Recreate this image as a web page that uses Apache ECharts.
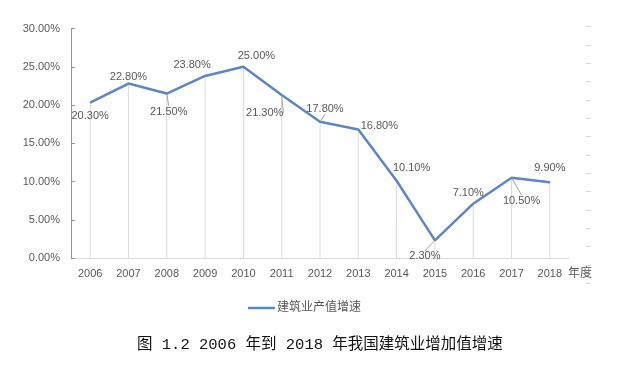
<!DOCTYPE html>
<html><head><meta charset="utf-8">
<script src="https://cdn.jsdelivr.net/npm/echarts@6/dist/echarts.min.js"></script>
<style>html,body{margin:0;padding:0;background:#fff}#c{width:617px;height:373px}</style>
</head><body><div id="c"></div>
<script>
const years = ['2006','2007','2008','2009','2010','2011','2012','2013','2014','2015','2016','2017','2018'];
const growth = [20.3, 22.8, 21.5, 23.8, 25.0, 21.3, 17.8, 16.8, 10.1, 2.3, 7.1, 10.5, 9.9];
const seriesName = '建筑业产值增速';
const xAxisName = '年度';
const titleText = '图 1.2 2006 年到 2018 年我国建筑业增加值增速';
const yTicks = { min: 0, max: 30, interval: 5 };

// label styling (offsets from each point, px) and which labels get leader lines
const labelOffsets = [[0,13],[0,-7],[2,18],[-13,-11],[13,-11],[-17,18],[5,-13],[21,-4],[15,-13],[-10,16],[-5,-11],[10,23],[0,-14.5]];
const leaderIdx = [2,5,6,9,11];

const FONT = '"Liberation Sans","Noto Sans CJK SC",sans-serif';
const GRAY = '#595959';
const LINE = '#5B87C6';

const chart = echarts.init(document.getElementById('c'), null, {renderer:'canvas'});
chart.setOption({
  animation: false,
  backgroundColor: '#fff',
  textStyle: { fontFamily: FONT },
  title: {
    text: titleText, left: 132, top: 332,
    textStyle: { fontFamily: '"Liberation Mono","Noto Sans CJK SC",monospace', fontSize: 15.5, fontWeight: 'normal', color: '#111' }
  },
  legend: {
    data: [seriesName], left: 243, top: 297,
    icon: 'rect', itemWidth: 27, itemHeight: 2.5, itemGap: 0,
    textStyle: { fontFamily: FONT, fontSize: 12, color: GRAY, padding: [0,0,0,-3] }
  },
  grid: [
    { left: 71, right: 48, top: 28.5, bottom: 115, containLabel: false },
    { left: 591, width: 1, top: 26.7, height: 256.6 }
  ],
  xAxis: [
    {
      type: 'category', data: years, boundaryGap: true, gridIndex: 0,
      axisLine: { lineStyle: { color: '#d9d9d9', width: 1 } },
      axisTick: { show: false },
      axisLabel: { color: GRAY, fontSize: 11, margin: 10, fontFamily: FONT },
      name: xAxisName, nameLocation: 'end', nameGap: 21,
      nameTextStyle: { color: GRAY, fontSize: 12, align: 'right', verticalAlign: 'top', padding: [10,0,0,0], fontFamily: FONT }
    },
    { type: 'value', gridIndex: 1, show: false }
  ],
  yAxis: [
    {
      type: 'value', gridIndex: 0, min: yTicks.min, max: yTicks.max, interval: yTicks.interval,
      axisLine: { show: true, lineStyle: { color: '#6C9BD6', width: 1 } },
      axisTick: { show: true, inside: true, length: 4, lineStyle: { color: '#6C9BD6' } },
      splitLine: { show: false },
      axisLabel: { color: GRAY, fontSize: 11, margin: 11, fontFamily: FONT, formatter: v => v.toFixed(2) + '%' }
    },
    {
      type: 'value', gridIndex: 1, min: 0, max: 14, interval: 1,
      axisLine: { show: false },
      axisTick: { show: true, length: 5, lineStyle: { color: '#d9d9d9' } },
      axisLabel: { show: false },
      splitLine: { show: false }
    }
  ],
  series: [
    {
      type: 'bar', name: 'drop', data: growth, barWidth: 1, xAxisIndex: 0, yAxisIndex: 0,
      itemStyle: { color: '#d9d9d9' }, silent: true, z: 1
    },
    {
      type: 'line', name: seriesName, xAxisIndex: 0, yAxisIndex: 0, z: 3,
      data: growth.map((v, i) => ({ value: v, labelLine: { show: leaderIdx.includes(i) } })),
      symbol: 'circle', symbolSize: 1, showSymbol: true,
      lineStyle: { color: LINE, width: 2.5 },
      itemStyle: { color: LINE },
      label: {
        show: true, color: GRAY, fontSize: 11, fontFamily: FONT,
        formatter: p => p.value.toFixed(2) + '%'
      },
      labelLine: { show: false, lineStyle: { color: '#a6a6a6', width: 1 } }
    }
  ],
  labelLayout: function (params) {
    if (params.seriesIndex !== 1) return {};
    const i = params.dataIndex;
    const r = params.rect;
    const o = labelOffsets[i];
    return { x: r.x + r.width / 2 + o[0], y: r.y + r.height / 2 + o[1], align: 'center', verticalAlign: 'middle' };
  }
});
</script></body></html>
